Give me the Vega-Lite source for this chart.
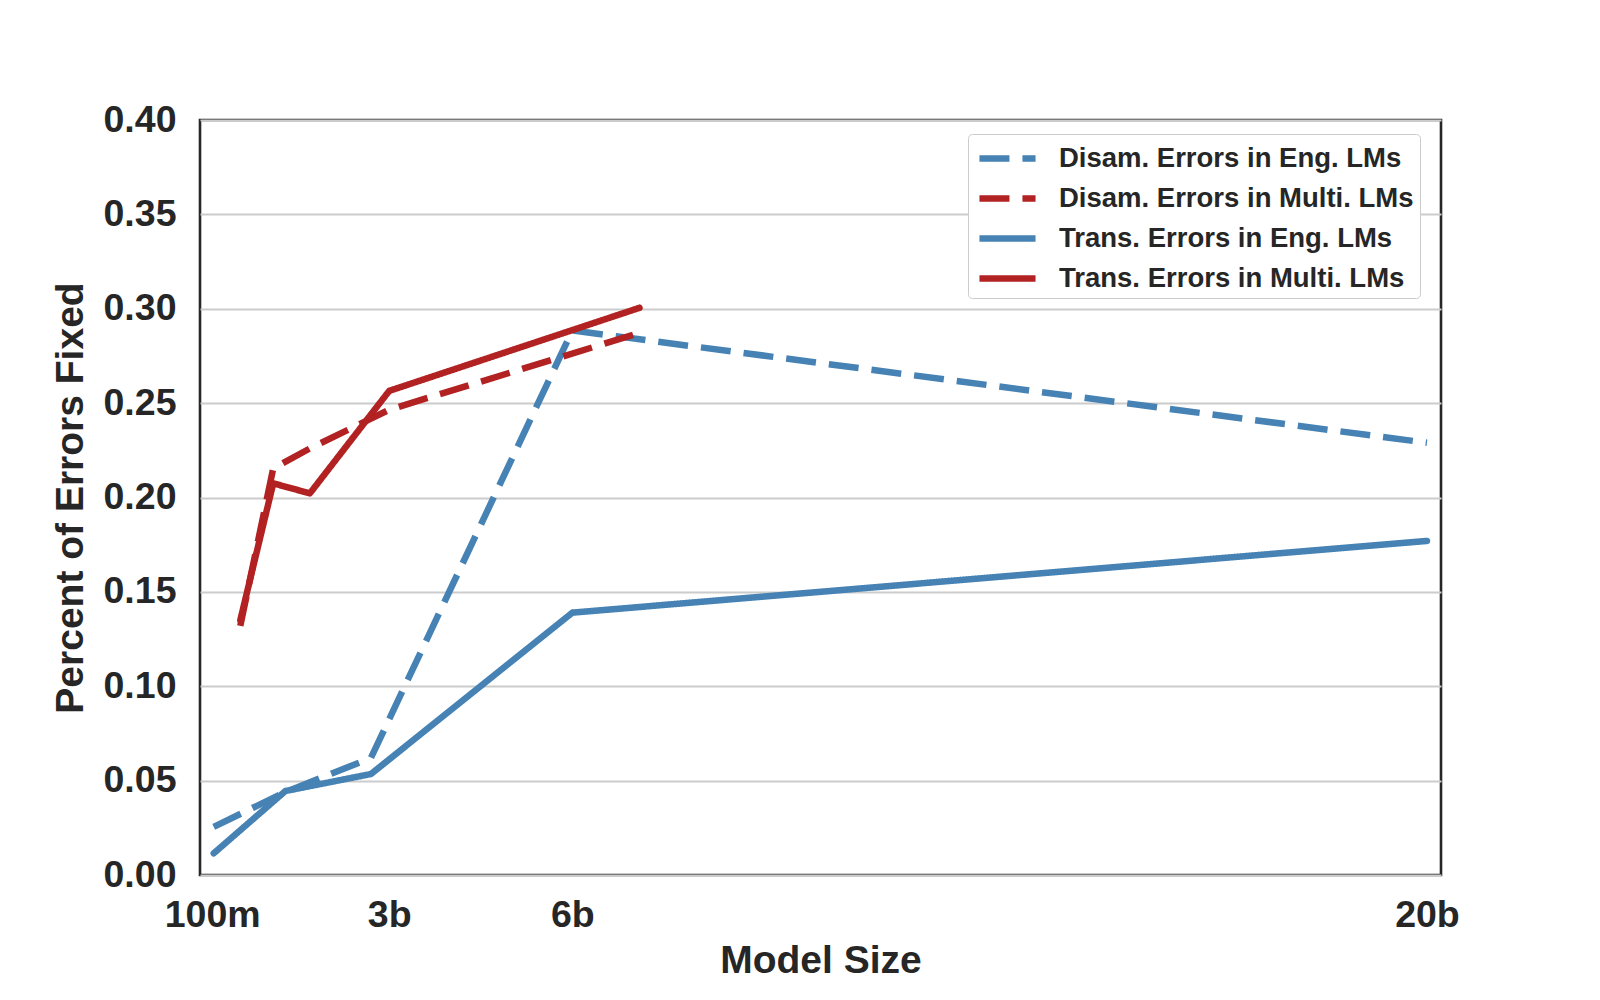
{
  "$schema": "https://vega.github.io/schema/vega-lite/v6.json",
  "width": 1241,
  "height": 755,
  "autosize": "none",
  "padding": {"left": 200, "top": 120, "right": 159, "bottom": 125},
  "background": "white",
  "config": {
    "font": "Liberation Sans",
    "view": {"stroke": "#262626", "strokeWidth": 2.6},
    "axis": {
      "labelFont": "Liberation Sans",
      "titleFont": "Liberation Sans",
      "labelFontWeight": "bold",
      "titleFontWeight": "bold",
      "labelColor": "#262626",
      "titleColor": "#262626",
      "labelFontSize": 37.5,
      "titleFontSize": 39,
      "domain": false,
      "ticks": false,
      "tickSize": 0
    }
  },
  "data": {
    "values": [
      {"model": 0.125, "value": 0.0255, "series": "Disam. Errors in Eng. LMs", "kind": "dashed"},
      {"model": 1.3, "value": 0.044, "series": "Disam. Errors in Eng. LMs", "kind": "dashed"},
      {"model": 2.7, "value": 0.062, "series": "Disam. Errors in Eng. LMs", "kind": "dashed"},
      {"model": 6, "value": 0.2885, "series": "Disam. Errors in Eng. LMs", "kind": "dashed"},
      {"model": 20, "value": 0.229, "series": "Disam. Errors in Eng. LMs", "kind": "dashed"},
      {"model": 0.56, "value": 0.132, "series": "Disam. Errors in Multi. LMs", "kind": "dashed"},
      {"model": 1.1, "value": 0.2155, "series": "Disam. Errors in Multi. LMs", "kind": "dashed"},
      {"model": 1.7, "value": 0.226, "series": "Disam. Errors in Multi. LMs", "kind": "dashed"},
      {"model": 3, "value": 0.2465, "series": "Disam. Errors in Multi. LMs", "kind": "dashed"},
      {"model": 7.1, "value": 0.2872, "series": "Disam. Errors in Multi. LMs", "kind": "dashed"},
      {"model": 0.125, "value": 0.0115, "series": "Trans. Errors in Eng. LMs", "kind": "solid"},
      {"model": 1.3, "value": 0.0445, "series": "Trans. Errors in Eng. LMs", "kind": "solid"},
      {"model": 2.7, "value": 0.0535, "series": "Trans. Errors in Eng. LMs", "kind": "solid"},
      {"model": 6, "value": 0.139, "series": "Trans. Errors in Eng. LMs", "kind": "solid"},
      {"model": 20, "value": 0.177, "series": "Trans. Errors in Eng. LMs", "kind": "solid"},
      {"model": 0.56, "value": 0.135, "series": "Trans. Errors in Multi. LMs", "kind": "solid"},
      {"model": 1.1, "value": 0.2075, "series": "Trans. Errors in Multi. LMs", "kind": "solid"},
      {"model": 1.7, "value": 0.2022, "series": "Trans. Errors in Multi. LMs", "kind": "solid"},
      {"model": 3, "value": 0.2565, "series": "Trans. Errors in Multi. LMs", "kind": "solid"},
      {"model": 7.1, "value": 0.3005, "series": "Trans. Errors in Multi. LMs", "kind": "solid"}
    ]
  },
  "encoding": {
    "x": {
      "field": "model",
      "type": "quantitative",
      "scale": {"domain": [-0.1, 20.23], "nice": false, "zero": false},
      "axis": {
        "title": "Model Size",
        "values": [0.1, 3, 6, 20],
        "labelExpr": "datum.value < 1 ? '100m' : format(datum.value, 'd') + 'b'",
        "grid": false,
        "labelPadding": 21,
        "titlePadding": 8,
        "labelFlush": false,
        "labelOverlap": false
      }
    },
    "y": {
      "field": "value",
      "type": "quantitative",
      "scale": {"domain": [0, 0.4], "nice": false},
      "axis": {
        "title": "Percent of Errors Fixed",
        "values": [0, 0.05, 0.1, 0.15, 0.2, 0.25, 0.3, 0.35, 0.4],
        "format": ".2f",
        "grid": true,
        "gridColor": "#cccccc",
        "gridWidth": 2,
        "labelPadding": 24,
        "titlePadding": 13,
        "labelFlush": false,
        "labelOverlap": false
      }
    },
    "color": {
      "field": "series",
      "type": "nominal",
      "scale": {
        "domain": ["Disam. Errors in Eng. LMs", "Disam. Errors in Multi. LMs", "Trans. Errors in Eng. LMs", "Trans. Errors in Multi. LMs"],
        "range": ["#4682b4", "#b22222", "#4682b4", "#b22222"]
      },
      "legend": {
        "title": null,
        "orient": "none",
        "legendX": 768,
        "legendY": 14,
        "symbolType": "M-1.87,0L1.87,0",
        "symbolSize": 900,
        "symbolOffset": 15,
        "symbolStrokeWidth": 6.5,
        "labelFont": "Liberation Sans",
        "labelFontWeight": "bold",
        "labelFontSize": 27.5,
        "labelColor": "#262626",
        "labelOffset": 33,
        "labelExpr": "datum.label + '\u2003'",
        "rowPadding": 8,
        "padding": 6,
        "strokeColor": "#cccccc",
        "cornerRadius": 4,
        "fillColor": "white",
        "labelLimit": 600
      }
    },
    "strokeDash": {
      "field": "series",
      "type": "nominal",
      "scale": {
        "domain": ["Disam. Errors in Eng. LMs", "Disam. Errors in Multi. LMs", "Trans. Errors in Eng. LMs", "Trans. Errors in Multi. LMs"],
        "range": [[30, 13], [30, 13], [1, 0], [1, 0]]
      },
      "legend": null
    }
  },
  "layer": [
    {
      "transform": [{"filter": "datum.kind === 'dashed'"}],
      "mark": {"type": "line", "strokeWidth": 6.5, "strokeCap": "butt", "strokeJoin": "miter"}
    },
    {
      "transform": [{"filter": "datum.kind === 'solid'"}],
      "mark": {"type": "line", "strokeWidth": 6.5, "strokeCap": "round", "strokeJoin": "round"}
    }
  ]
}
